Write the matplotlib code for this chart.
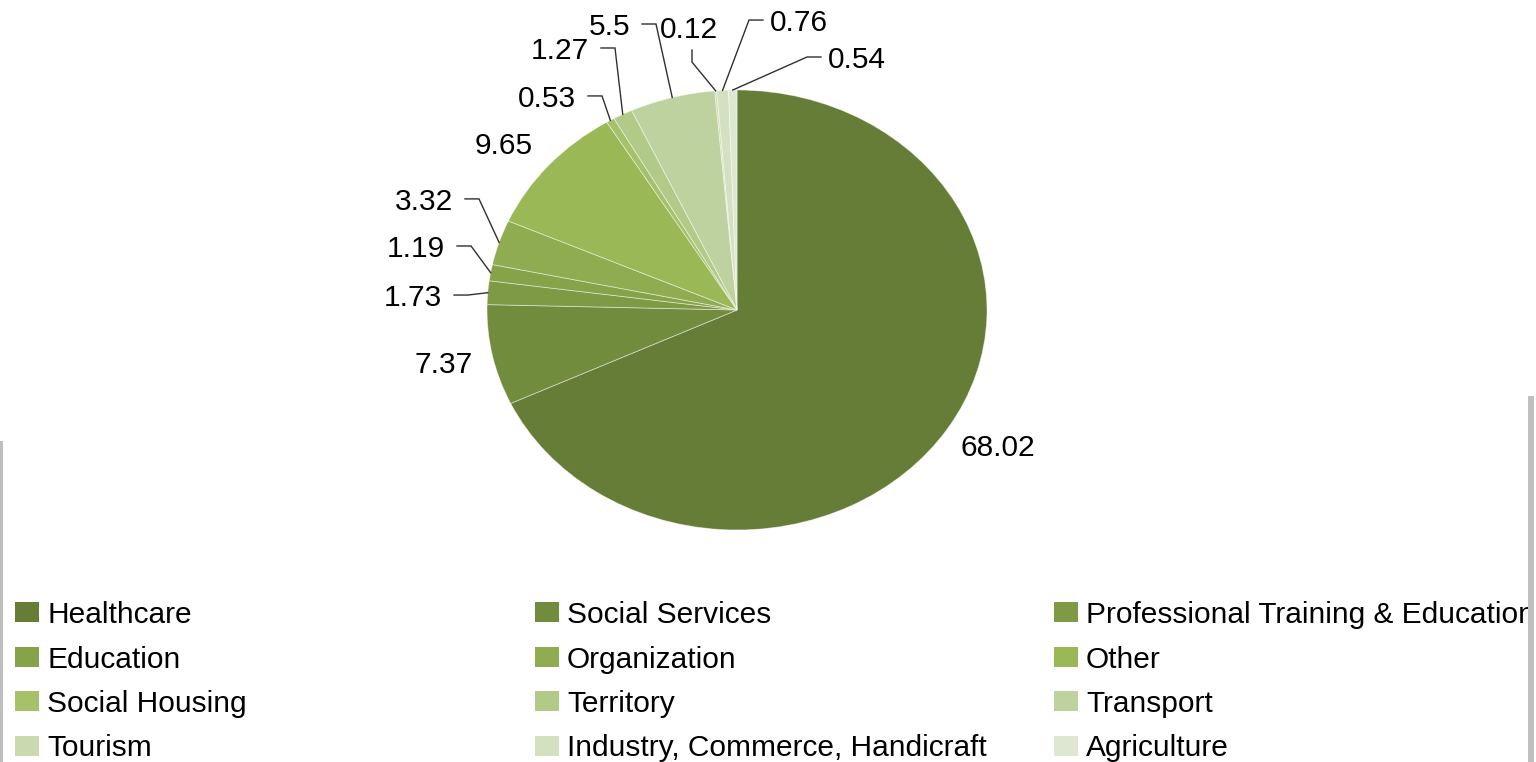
import numpy as np
import matplotlib.pyplot as plt
from matplotlib.patches import Rectangle

plt.rcParams["font.family"] = ["Liberation Sans", "DejaVu Sans"]

# 行业分布（%）
sectors = ["Healthcare", "Social Services", "Professional Training & Education",
           "Education", "Organization", "Other",
           "Social Housing", "Territory", "Transport",
           "Tourism", "Industry, Commerce, Handicraft", "Agriculture"]
shares = [68.02, 7.37, 1.73, 1.19, 3.32, 9.65, 0.53, 1.27, 5.5, 0.12, 0.76, 0.54]
colors = ["#667D38", "#728C3E", "#7E9A45", "#86A34A", "#8FAD50", "#9AB856",
          "#A5C169", "#B2CA88", "#BED29F", "#CAD9B0", "#D4E1C1", "#DDE7D1"]

# 标签位置 (x, y, ha, 引线方式)，单位为饼图坐标
label_pos = [
    (1.044, -0.614, "center", None),
    (-1.172, -0.236, "center", None),
    (-1.18, 0.068, "right", "h"),
    (-1.168, 0.291, "right", "h"),
    (-1.136, 0.505, "right", "h"),
    (-0.932, 0.759, "center", None),
    (-0.644, 0.973, "right", "h"),
    (-0.592, 1.191, "right", "h"),
    (-0.428, 1.30, "right", "h"),
    (-0.192, 1.286, "center", "v"),
    (0.132, 1.318, "left", "h"),
    (0.364, 1.15, "left", "h"),
]

W, H = 1536, 762
fs = 21.5

fig = plt.figure(figsize=(W / 100, H / 100), dpi=100)
ax = fig.add_axes([487 / W, (H - 530) / H, 500 / W, 440 / H])
wedges, _ = ax.pie(shares, colors=colors, startangle=90, counterclock=False,
                   radius=1, wedgeprops=dict(edgecolor=(1, 1, 1, 0.5), linewidth=0.6))
ax.set_aspect("auto")
ax.set_xlim(-1, 1)
ax.set_ylim(-1, 1)
ax.axis("off")

px = 2 / 500   # x 方向每像素
py = 2 / 440   # y 方向每像素
for w, v, (lx, ly, ha, lead) in zip(wedges, shares, label_pos):
    ax.text(lx, ly - 3 * py, f"{v:g}", ha=ha, va="center", fontsize=fs, color="black")
    if lead is None:
        continue
    th = np.deg2rad((w.theta1 + w.theta2) / 2)
    ex, ey = np.cos(th), np.sin(th)
    if lead == "v":
        sx, sy = lx + 3 * px, ly - 23 * py
        kx, ky = sx, ly - 35 * py
    elif ha == "right":
        sx, sy = lx + 12 * px, ly
        kx, ky = sx + 14 * px, ly
    else:
        sx, sy = lx - 7 * px, ly
        kx, ky = sx - 14 * px, ly
    ax.plot([sx, kx, ex], [sy, ky, ey], color="#303030", lw=1.0,
            clip_on=False, solid_joinstyle="miter")

# 图例：三列
col_x = [15, 535, 1054]
row_y = [612, 656.5, 700.5, 745.5]
for i, (name, c) in enumerate(zip(sectors, colors)):
    x0 = col_x[i % 3]
    y0 = row_y[i // 3]
    fig.patches.append(Rectangle((x0 / W, (H - y0 - 10) / H), 24 / W, 20 / H,
                                 transform=fig.transFigure, facecolor=c,
                                 edgecolor="none"))
    fig.text((x0 + 32) / W, (H - y0 - 3) / H, name, fontsize=fs,
             ha="left", va="center")

# 边框残留
fig.patches.append(Rectangle((1528 / W, 0), 8 / W, (H - 396) / H,
                             transform=fig.transFigure, facecolor="white",
                             edgecolor="none", zorder=5))
fig.patches.append(Rectangle((1528 / W, 0), 6 / W, (H - 396) / H,
                             transform=fig.transFigure, facecolor="#BFBFBF",
                             edgecolor="none", zorder=6))
fig.patches.append(Rectangle((0, 0), 3 / W, (H - 441) / H,
                             transform=fig.transFigure, facecolor="#BFBFBF",
                             edgecolor="none", zorder=6))

fig.savefig("out.png", dpi=100, facecolor="white")
